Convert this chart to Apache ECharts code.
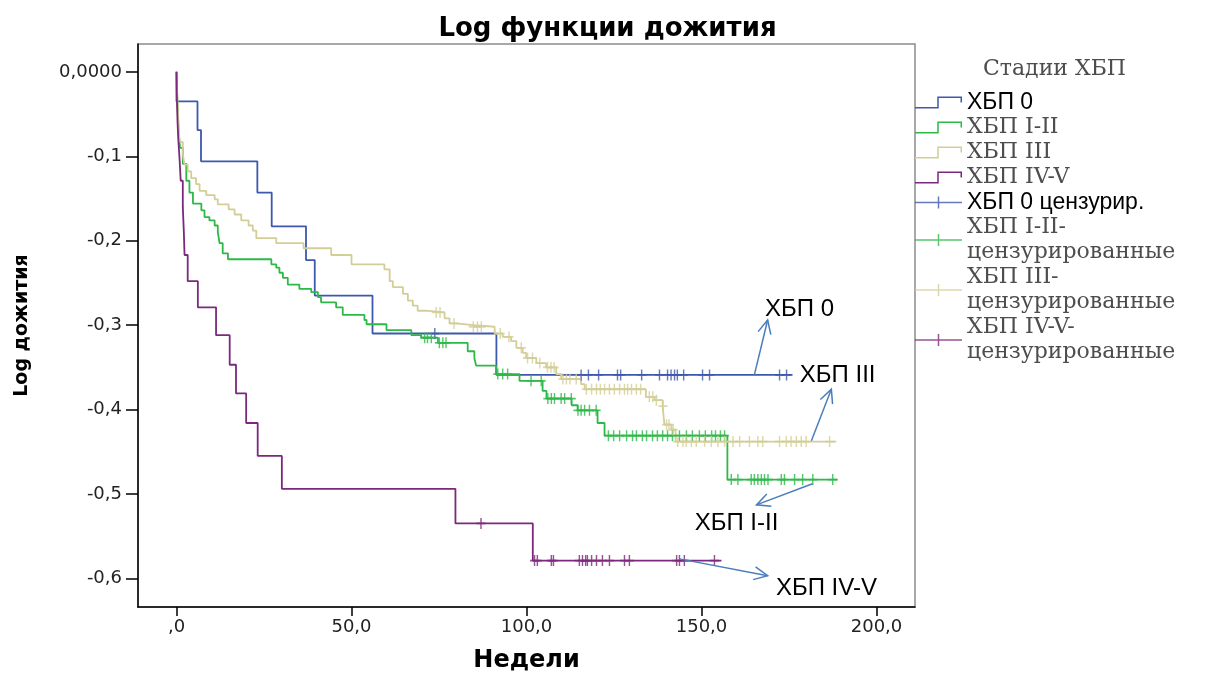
<!DOCTYPE html>
<html>
<head>
<meta charset="utf-8">
<title>Log функции дожития</title>
<script src="https://cdn.jsdelivr.net/npm/echarts@6/dist/echarts.min.js"></script>
<style>
  html, body { margin: 0; padding: 0; background: #fff; }
  #main { width: 1215px; height: 678px; }
</style>
</head>
<body>
<div id="main"></div>
<script>
// ступенчатые кривые: [неделя, log дожития после события]
var stage0Steps = [[0, 0], [0, -0.035], [6.0, -0.069], [7.0, -0.106], [23.1, -0.143], [27.2, -0.183],
    [37.0, -0.223], [39.5, -0.265], [56.0, -0.310], [91.4, -0.359], [176, -0.359]];
var stage12Steps = [[0, 0], [0.3, -0.04], [0.6, -0.07], [1.0, -0.09], [1.8, -0.109], [2.8, -0.129],
    [3.7, -0.143], [4.7, -0.156], [7.1, -0.164], [8.0, -0.172], [9.4, -0.176], [10.9, -0.182],
    [11.8, -0.190], [12.3, -0.203], [13.2, -0.215], [14.7, -0.222], [27.1, -0.228], [28.5, -0.232],
    [29.4, -0.238], [30.4, -0.244], [31.8, -0.252], [35.1, -0.257], [38.5, -0.261], [40.4, -0.267],
    [41.3, -0.273], [45.6, -0.279], [47.5, -0.288], [53.7, -0.294], [54.3, -0.299], [60.0, -0.306],
    [67.1, -0.312], [69.9, -0.315], [74.7, -0.321], [83.2, -0.331], [85.1, -0.339], [85.6, -0.348],
    [91.3, -0.358], [98.0, -0.366], [104.6, -0.378], [105.7, -0.387], [112.9, -0.395], [114.6, -0.401],
    [120.3, -0.416], [122.3, -0.431], [157.4, -0.483], [188.9, -0.483]];
var stage3Steps = [[0, 0], [0.15, -0.021], [0.3, -0.036], [0.5, -0.056], [0.7, -0.070], [0.9, -0.083],
    [1.8, -0.098], [2.3, -0.110], [3.2, -0.118], [4.2, -0.126], [5.6, -0.133], [6.6, -0.141],
    [8.5, -0.146], [10.9, -0.151], [11.8, -0.157], [14.9, -0.163], [16.6, -0.169], [18.5, -0.176],
    [20.6, -0.182], [21.8, -0.188], [22.8, -0.197], [28.5, -0.203], [36.3, -0.209], [44.2, -0.217],
    [50.0, -0.228], [59.4, -0.234], [60.9, -0.248], [61.8, -0.255], [64.7, -0.263], [66.1, -0.271],
    [67.5, -0.277], [68.9, -0.283], [71.3, -0.285], [76.6, -0.292], [78.0, -0.298], [79.9, -0.300],
    [84.7, -0.302], [90.9, -0.310], [93.2, -0.314], [95.6, -0.319], [97.1, -0.327], [98.9, -0.333],
    [99.9, -0.339], [102.8, -0.345], [105.6, -0.350], [108.5, -0.358], [109.9, -0.364], [115.6, -0.370],
    [116.6, -0.376], [134.1, -0.385], [136.6, -0.389], [138.9, -0.396], [139.4, -0.418], [141.4, -0.424],
    [142.6, -0.438], [188.5, -0.438]];
var stage45Steps = [[0, 0], [0.1, -0.03], [0.3, -0.06], [0.5, -0.079], [0.9, -0.105], [1.2, -0.129],
    [1.8, -0.160], [2.1, -0.19], [2.3, -0.217], [3.2, -0.248], [6.1, -0.279], [11.3, -0.312],
    [15.2, -0.347], [17.0, -0.381], [19.9, -0.416], [23.2, -0.455], [30.1, -0.494], [79.7, -0.535],
    [101.8, -0.579], [155.7, -0.579]];

// недели цензурированных наблюдений
var stage0Cens = [73.8, 115.6, 117.7, 120.6, 126.0, 126.9, 132.9, 138.0, 140.3, 141.3, 142.3, 143.1,
    144.9, 150.3, 152.3, 172.3, 174.3];
var stage12Cens = [70.9, 71.7, 72.8, 75.1, 76.1, 77.0, 91.8, 93.2, 94.6, 101.3, 104.2, 106.1, 107.1,
    108.0, 109.9, 110.9, 112.8, 114.7, 115.6, 116.6, 118.0, 119.9, 123.4, 124.9, 126.6, 128.6, 130.3,
    131.4, 133.1, 134.3, 136.0, 137.4, 138.9, 140.3, 141.7, 143.7, 145.7, 147.4, 149.4, 151.1, 152.9,
    154.0, 155.4, 156.6, 158.5, 160.4, 164.2, 165.1, 166.1, 167.1, 168.0, 169.0, 172.8, 173.7, 176.6,
    178.9, 181.8, 187.5];
var stage3Cens = [74.2, 75.3, 79.3, 84.8, 86.0, 87.1, 92.5, 95.0, 98.5, 100.3, 101.7, 103.8, 106.0,
    107.0, 107.9, 110.4, 111.4, 112.4, 114.2, 117.1, 118.6, 120.0, 121.1, 122.3, 123.7, 125.1, 126.6,
    128.0, 128.9, 130.0, 131.4, 132.6, 135.1, 136.1, 137.1, 139.0, 140.0, 140.7, 141.9, 143.2, 144.7,
    145.6, 147.1, 148.5, 150.9, 152.8, 154.7, 156.6, 159.0, 160.9, 163.7, 166.1, 167.5, 172.3, 174.2,
    175.6, 177.1, 178.5, 179.9, 186.6];
var stage45Cens = [87.0, 102.3, 103.1, 107.1, 107.7, 115.1, 116.0, 116.9, 117.4, 118.6, 120.0, 121.7,
    123.7, 128.0, 129.4, 142.9, 143.7, 145.1, 153.7];

var xTicks = [0, 50, 100, 150, 200];
var yTicks = [0, -0.1, -0.2, -0.3, -0.4, -0.5, -0.6];

var curveNames = ['ХБП 0', 'ХБП I-II', 'ХБП III', 'ХБП IV-V'];
var censNames = ['ХБП 0 цензурир.', 'ХБП I-II-цензурированные', 'ХБП III-цензурированные', 'ХБП IV-V-цензурированные'];
var censLabels = ['ХБП 0 цензурир.', 'ХБП I-II-\nцензурированные', 'ХБП III-\nцензурированные', 'ХБП IV-V-\nцензурированные'];
var colors = ['#3E58AC', '#2EB848', '#D3CE97', '#7C287D'];

// подписи-стрелки на графике: текст, позиция текста, начало и конец стрелки
var noteText = ['ХБП 0', 'ХБП III', 'ХБП I-II', 'ХБП IV-V'];
var notePos = [[178, -0.281], [188.9, -0.360], [160, -0.535], [185.7, -0.612]];
var arrowFrom = [[165.1, -0.359], [181.4, -0.437], [181.7, -0.488], [143.7, -0.577]];
var arrowTo = [[168.9, -0.294], [187.1, -0.376], [165.7, -0.513], [168.9, -0.597]];

var STEP_ICON = 'path://M0,10.5H22.25V0H47V6H45.5V1.5H23.75V12H0Z';
var CROSS_ICON = 'path://M0,5.25H47V6.75H0Z M22.75,0H24.25V12H22.75Z';
var CROSS = 'path://M0,4.2H10V5.8H0Z M4.2,0H5.8V10H4.2Z';

function levelAt(steps, t) {
    var y = 0;
    for (var i = 0; i < steps.length; i++) {
        if (steps[i][0] <= t) y = steps[i][1];
    }
    return y;
}

var allSteps = [stage0Steps, stage12Steps, stage3Steps, stage45Steps];
var allCens = [stage0Cens, stage12Cens, stage3Cens, stage45Cens];

var series = [];
for (var i = 0; i < 4; i++) {
    series.push({
        name: curveNames[i],
        type: 'line',
        step: 'end',
        data: allSteps[i],
        showSymbol: false,
        color: colors[i],
        lineStyle: { width: 1.8, color: colors[i] },
        z: 2
    });
}
for (var i = 0; i < 4; i++) {
    var pts = allCens[i].map(function (t) { return [t, levelAt(allSteps[i], t)]; });
    series.push({
        name: censNames[i],
        type: 'scatter',
        data: pts,
        symbol: CROSS,
        symbolSize: [9, 11],
        color: colors[i],
        itemStyle: { color: colors[i] },
        z: 3
    });
}

var grayText = { fontFamily: 'DejaVu Serif', fontSize: 22, color: '#4d4d4d', lineHeight: 25 };
var blackText = { fontFamily: 'Liberation Sans', fontSize: 23, color: '#000', lineHeight: 25 };
var legendData = [];
for (var i = 0; i < 4; i++) {
    legendData.push({ name: curveNames[i], icon: STEP_ICON, textStyle: i === 0 ? blackText : grayText });
}
for (var i = 0; i < 4; i++) {
    legendData.push({ name: censNames[i], icon: CROSS_ICON, textStyle: i === 0 ? blackText : grayText });
}

function numFmt(v, zeroText) {
    if (v === 0) return zeroText;
    return v.toFixed(1).replace('.', ',');
}

var myChart = echarts.init(document.getElementById('main'));
var option = {
    animation: false,
    backgroundColor: '#fff',
    title: [{
        text: 'Log функции дожития',
        left: 'center',
        top: 11,
        textStyle: { fontFamily: 'DejaVu Sans', fontWeight: 'bold', fontSize: 26, color: '#000' }
    }, {
        text: 'Стадии ХБП',
        left: 978,
        top: 53,
        textStyle: { fontFamily: 'DejaVu Serif', fontWeight: 'normal', fontSize: 22, color: '#4d4d4d' }
    }],
    legend: {
        orient: 'vertical',
        left: 915,
        top: 90,
        padding: 0,
        itemGap: 0,
        itemWidth: 47,
        itemHeight: 12,
        itemStyle: { borderWidth: 0 },
        selectedMode: false,
        data: legendData,
        formatter: function (name) {
            var k = censNames.indexOf(name);
            return k >= 0 ? censLabels[k] : name;
        }
    },
    grid: {
        left: 138, right: 300, top: 44, bottom: 62,
        show: true, borderColor: '#8c8c8c', borderWidth: 1.5
    },
    xAxis: {
        type: 'value',
        min: -11,
        max: 211,
        name: 'Недели',
        nameLocation: 'middle',
        nameGap: 42,
        nameTextStyle: { fontFamily: 'DejaVu Sans', fontWeight: 'bold', fontSize: 24, color: '#000' },
        axisLine: { onZero: false, lineStyle: { color: '#000', width: 1.5 } },
        axisTick: { length: 9, customValues: xTicks, lineStyle: { color: '#000', width: 1.5 } },
        axisLabel: {
            customValues: xTicks, margin: 11, fontFamily: 'DejaVu Sans', fontSize: 18, color: '#222',
            formatter: function (v) { return numFmt(v, ',0'); }
        },
        splitLine: { show: false }
    },
    yAxis: {
        type: 'value',
        min: -0.634,
        max: 0.033,
        name: 'Log дожития',
        nameLocation: 'middle',
        nameGap: 106,
        nameRotate: 90,
        nameTextStyle: { fontFamily: 'DejaVu Sans', fontWeight: 'bold', fontSize: 19, color: '#000' },
        axisLine: { onZero: false, lineStyle: { color: '#000', width: 1.5 } },
        axisTick: { length: 12, customValues: yTicks, lineStyle: { color: '#000', width: 1.5 } },
        axisLabel: {
            customValues: yTicks, margin: 16, fontFamily: 'DejaVu Sans', fontSize: 18, color: '#222',
            formatter: function (v) { return numFmt(v, '0,0000'); }
        },
        splitLine: { show: false }
    },
    series: series
};
myChart.setOption(option);

// стрелки и подписи, размещённые в координатах данных
var graphics = [];
for (var i = 0; i < noteText.length; i++) {
    var p = myChart.convertToPixel({ gridIndex: 0 }, notePos[i]);
    var a = myChart.convertToPixel({ gridIndex: 0 }, arrowFrom[i]);
    var b = myChart.convertToPixel({ gridIndex: 0 }, arrowTo[i]);
    var ang = Math.atan2(b[1] - a[1], b[0] - a[0]);
    var len = 15, spread = 0.45;
    var h1 = [b[0] - len * Math.cos(ang - spread), b[1] - len * Math.sin(ang - spread)];
    var h2 = [b[0] - len * Math.cos(ang + spread), b[1] - len * Math.sin(ang + spread)];
    graphics.push({
        type: 'polyline', z: 10,
        shape: { points: [a, b] },
        style: { stroke: '#4a7ebb', lineWidth: 1.5, fill: null }
    });
    graphics.push({
        type: 'polyline', z: 10,
        shape: { points: [h1, b, h2] },
        style: { stroke: '#4a7ebb', lineWidth: 1.5, fill: null }
    });
    graphics.push({
        type: 'text', z: 10,
        x: p[0], y: p[1],
        style: {
            text: noteText[i], fontFamily: 'Liberation Sans', fontSize: 24, fill: '#000',
            align: 'center', verticalAlign: 'middle'
        }
    });
}
myChart.setOption({ graphic: graphics });
</script>
</body>
</html>
